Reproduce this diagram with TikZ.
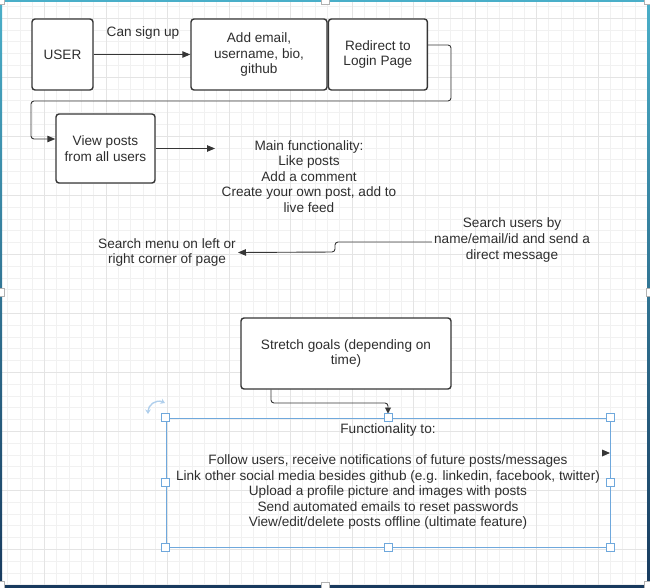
\documentclass[tikz,border=0pt]{standalone}
\usepackage{fontspec}
\setmainfont{Liberation Sans}
\usetikzlibrary{positioning, arrows.meta}

\definecolor{inkgray}{HTML}{363636}
\definecolor{textgray}{HTML}{2E2E2E}
\definecolor{selblue}{HTML}{6FA8DC}
\definecolor{frameteal}{HTML}{4AAFC9}
\definecolor{framenavy}{HTML}{183A5E}
\definecolor{gridminor}{HTML}{F1F1F1}
\definecolor{gridmajor}{HTML}{E4E4E4}

\tikzset{
  box/.style={rectangle, draw=inkgray, line width=1.4pt,
    rounded corners=3pt, fill=white, align=center},
  txt/.style={align=center, inner sep=2pt},
  conn/.style={draw=inkgray, line width=0.9pt,
    -{Triangle[length=8pt,width=6.5pt]}},
  handle/.style={rectangle, draw=selblue, line width=1pt, fill=white,
    minimum size=8pt, inner sep=0pt},
  framehandle/.style={rectangle, draw=gray!60, fill=white,
    line width=0.6pt, minimum size=8pt, inner sep=0pt},
}

\begin{document}
\begin{tikzpicture}[x=1pt, y=-1pt, text=textgray,
    font=\fontsize{13.6}{15.6}\selectfont]

    \useasboundingbox (0,0) rectangle (650,588);

    % grid
    \foreach \i in {0,...,52}
      \draw[gridminor, line width=0.8pt] ({7.6+12.3*\i},0) -- ++(0,588);
    \foreach \j in {0,...,49}
      \draw[gridminor, line width=0.8pt] (0,{6.5+11.8*\j}) -- ++(650,0);
    \foreach \i in {3,8,...,48}
      \draw[gridmajor, line width=0.8pt] ({7.6+12.3*\i},0) -- ++(0,588);
    \foreach \j in {1,6,...,46}
      \draw[gridmajor, line width=0.8pt] (0,{6.5+11.8*\j}) -- ++(650,0);

    % frame
    \fill[frameteal] (0,0) rectangle (650,2);
    \shade[top color=frameteal, bottom color=framenavy] (0,0) rectangle (2,588);
    \shade[top color=frameteal, bottom color=framenavy] (647.5,0) rectangle (650,588);
    \fill[framenavy] (0,584.5) rectangle (650,588);
    \foreach \p in {(0,0),(325,0),(648,0),(0,292),(650,292),(0,585),(325,586),(648,585)}
      \node[framehandle] at \p {};

    % sign up row
    \node[box, minimum width=61pt, minimum height=71pt] (user) at (62.5,54.5) {USER};

    \node[box, minimum width=136pt, minimum height=71pt] (addinfo) at (259,54.5)
      {Add email,\\ username, bio,\\ github};

    \node[box, minimum width=99pt, minimum height=71pt,
      right=0pt of addinfo] (redirect) {Redirect to\\ Login Page};

    \node[txt] (signup) at (143,33) {Can sign up};

    \draw[conn] (user) -- (addinfo);

    % feed
    \node[box, minimum width=99pt, minimum height=69pt] (view) at (105.5,148.5)
      {View posts\\ from all users};

    \draw[conn, rounded corners=3pt] ([yshift=9.5pt]redirect.east) -| (451,101)
      -| (31,139) -- ([yshift=9.5pt]view.west);

    \node[txt] (mainfunc) at (309,176.5)
      {Main functionality:\\ Like posts\\ Add a comment\\ Create your own post, add to\\ live feed};

    \coordinate (mainin) at (215,148.5);
    \draw[conn] (view.east) -- (mainin);

    % search
    \node[txt] (menu) at (167,252.5) {Search menu on left or\\ right corner of page};

    \node[txt] (search) at (512,240)
      {Search users by\\ name/email/id and send a\\ direct message};

    \draw[conn, rounded corners=3pt] ([yshift=-2pt]search.west) -| (335,252)
      -- (menu.east);

    % stretch goals
    \node[box, minimum width=210pt, minimum height=71pt] (stretch) at (346,353.5)
      {Stretch goals (depending on\\ time)};

    \node[rectangle, draw=selblue, line width=1pt,
      minimum width=444pt, minimum height=129pt] (funcbox) at (388,482.5) {};

    \node[txt] (functext) at (388,476.5)
      {Functionality to:\\[15.6pt]
       Follow users, receive notifications of future posts/messages\\
       Link other social media besides github (e.g. linkedin, facebook, twitter)\\
       Upload a profile picture and images with posts\\
       Send automated emails to reset passwords\\
       View/edit/delete posts offline (ultimate feature)};

    \draw[draw=inkgray, line width=0.9pt, rounded corners=3pt,
      -{Triangle[length=6pt,width=6pt]}, shorten >=4pt]
      ([xshift=-75pt]stretch.south) |- (388,403) -- (funcbox.north);

    \fill[inkgray] (602,449.5) -- (610,453) -- (602,456.5) -- cycle;

    \foreach \a in {north west, north, north east, west, east,
      south west, south, south east}
      \node[handle] at (funcbox.\a) {};

    \draw[selblue!55, line width=1.4pt,
      {Stealth[length=4.5pt,width=5.5pt]}-{Stealth[length=4.5pt,width=5.5pt]}]
      (148,414) .. controls (148,405) and (156,399) .. (165,403);
    \end{tikzpicture}
\end{document}
